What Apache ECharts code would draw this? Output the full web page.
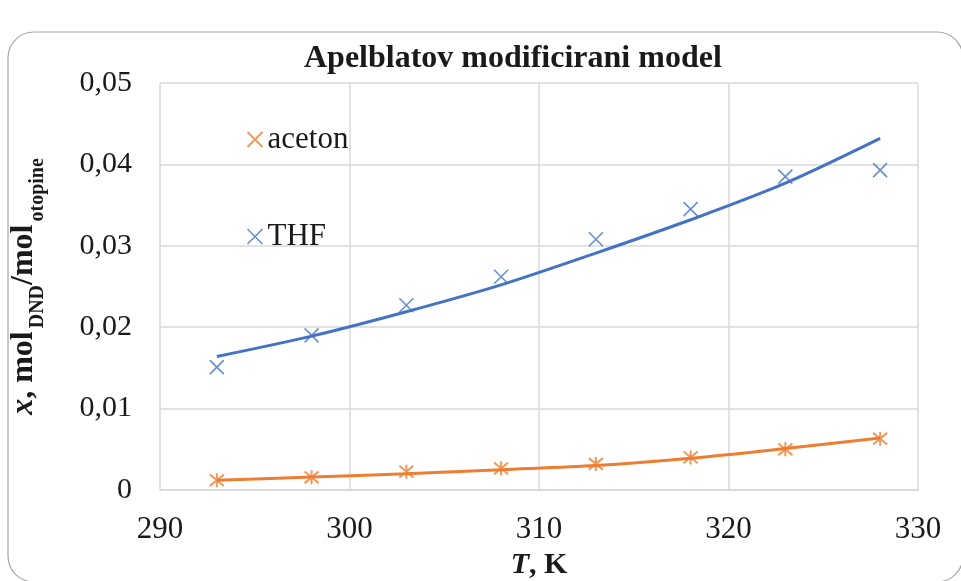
<!DOCTYPE html>
<html>
<head>
<meta charset="utf-8">
<script src="https://cdn.jsdelivr.net/npm/echarts@6/dist/echarts.min.js"></script>
<style>
  html, body { margin: 0; padding: 0; background: #fff; }
  #chart { width: 961px; height: 581px; }
</style>
</head>
<body>
<div id="chart"></div>
<script>
// temperatura, K
var temps = [293, 298, 303, 308, 313, 318, 323, 328];
// eksperimentalne točke
var acetonExp = [0.0012, 0.00156, 0.00225, 0.00266, 0.0032, 0.0040, 0.0050, 0.0063];
var thfExp = [0.0151, 0.0190, 0.0227, 0.0262, 0.0308, 0.0345, 0.0385, 0.0393];
// model (Apelblat)
var acetonModel = [0.0012, 0.0016, 0.0020, 0.0025, 0.0030, 0.0039, 0.0051, 0.0064];
var thfModel = [0.0164, 0.0189, 0.0219, 0.0252, 0.0291, 0.0332, 0.0377, 0.0432];
var yTicks = ['0', '0,01', '0,02', '0,03', '0,04', '0,05'];

var orange = '#ed7d31';
var blue = '#4472c4';
var serif = '"Liberation Serif", "Times New Roman", serif';

var cross = 'path://M0,0L10,10M10,0L0,10';
var star = 'path://M0,0L10,10M10,0L0,10M5,-1L5,11';

function pairs(xs, ys) {
  return xs.map(function (x, i) { return [x, ys[i]]; });
}

var myChart = echarts.init(document.getElementById('chart'));

var option = {
  backgroundColor: '#fff',
  animation: false,
  graphic: [{
    type: 'rect',
    shape: { x: 8, y: 32, width: 955, height: 550, r: 26 },
    style: { fill: 'none', stroke: '#a6a6a6', lineWidth: 1.2 },
    z: -1
  }],
  title: {
    text: 'Apelblatov modificirani model',
    left: 299,
    top: 38,
    textStyle: { fontFamily: serif, fontWeight: 'bold', fontSize: 32, color: '#1a1a1a' }
  },
  legend: {
    orient: 'vertical',
    left: 240,
    top: 119,
    itemGap: 66,
    itemWidth: 15,
    itemHeight: 15,
    textStyle: { fontFamily: serif, fontSize: 31, color: '#1a1a1a' },
    data: [
      { name: 'aceton', icon: cross, itemStyle: { color: 'none', borderColor: orange, borderWidth: 1.8 } },
      { name: 'THF', icon: cross, itemStyle: { color: 'none', borderColor: blue, borderWidth: 1.6 } }
    ]
  },
  grid: { left: 160, right: 43, top: 83, bottom: 91, outerBoundsMode: 'none' },
  xAxis: {
    type: 'value',
    min: 290,
    max: 330,
    interval: 10,
    name: '{i|T}{b|, K}',
    nameLocation: 'middle',
    nameGap: 58,
    nameTextStyle: {
      rich: {
        i: { fontFamily: serif, fontSize: 30, fontWeight: 'bold', fontStyle: 'italic', color: '#1a1a1a' },
        b: { fontFamily: serif, fontSize: 30, fontWeight: 'bold', color: '#1a1a1a' }
      }
    },
    axisLine: { show: true, lineStyle: { color: '#d9d9d9', width: 1.5 } },
    axisTick: { show: false },
    splitLine: { show: true, lineStyle: { color: '#d9d9d9', width: 1.5 } },
    axisLabel: { fontFamily: serif, fontSize: 31, color: '#1a1a1a', margin: 24 }
  },
  yAxis: {
    type: 'value',
    min: 0,
    max: 0.05,
    interval: 0.01,
    name: '{i|x}{b|, mol}{s|DND}{b|/mol}{s|otopine}',
    nameLocation: 'middle',
    nameRotate: 90,
    nameGap: 116,
    nameTextStyle: {
      rich: {
        i: { fontFamily: serif, fontSize: 32, fontWeight: 'bold', fontStyle: 'italic', color: '#1a1a1a', lineHeight: 40, verticalAlign: 'middle' },
        b: { fontFamily: serif, fontSize: 32, fontWeight: 'bold', color: '#1a1a1a', lineHeight: 40, verticalAlign: 'middle' },
        s: { fontFamily: serif, fontSize: 20, fontWeight: 'bold', color: '#1a1a1a', lineHeight: 20, verticalAlign: 'bottom', padding: [0, 0, -4, 3] }
      }
    },
    axisLine: { show: false },
    axisTick: { show: false },
    splitLine: { show: true, lineStyle: { color: '#d9d9d9', width: 1.5 } },
    axisLabel: {
      fontFamily: serif, fontSize: 30, color: '#1a1a1a', margin: 28,
      formatter: function (v) { return yTicks[Math.round(v * 100)]; }
    }
  },
  series: [
    {
      name: 'aceton model',
      type: 'line',
      data: pairs(temps, acetonModel),
      smooth: 0.3,
      showSymbol: false,
      lineStyle: { color: orange, width: 3 },
      z: 2
    },
    {
      name: 'THF model',
      type: 'line',
      data: pairs(temps, thfModel),
      smooth: 0.3,
      showSymbol: false,
      lineStyle: { color: blue, width: 3 },
      z: 2
    },
    {
      name: 'aceton',
      type: 'scatter',
      data: pairs(temps, acetonExp),
      symbol: star,
      symbolSize: 14,
      itemStyle: { color: 'none', borderColor: orange, borderWidth: 2 },
      z: 3
    },
    {
      name: 'THF',
      type: 'scatter',
      data: pairs(temps, thfExp),
      symbol: cross,
      symbolSize: 14,
      itemStyle: { color: 'none', borderColor: blue, borderWidth: 1.6 },
      z: 3
    }
  ]
};

myChart.setOption(option);
window.addEventListener('resize', function () { myChart.resize(); });
</script>
</body>
</html>
